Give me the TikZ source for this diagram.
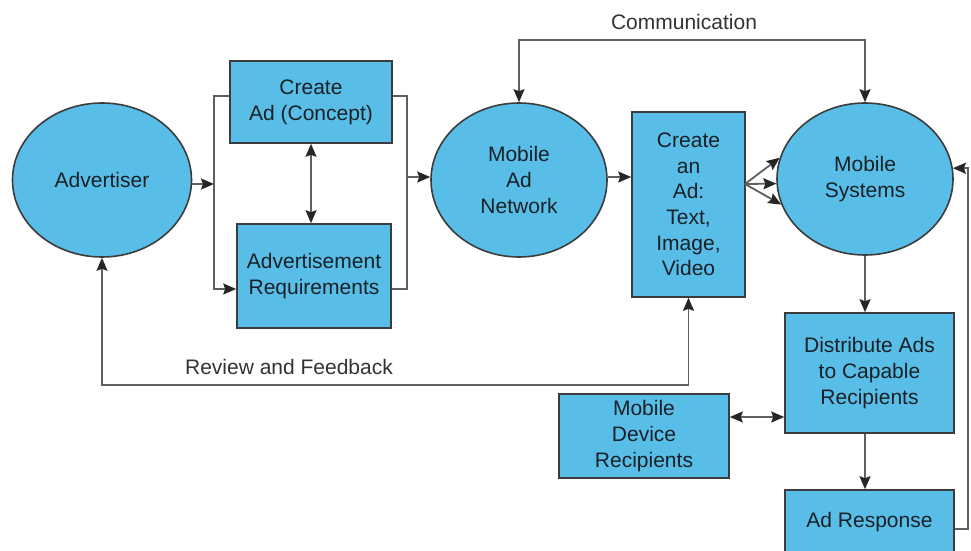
\documentclass[tikz,border=0pt]{standalone}
\usepackage{fontspec}
\setmainfont{Liberation Sans}
\usetikzlibrary{shapes.geometric,arrows.meta}
\definecolor{boxblue}{RGB}{88,190,232}
\definecolor{edgegray}{RGB}{60,60,60}
\definecolor{linegray}{RGB}{95,95,95}
\definecolor{txt}{RGB}{25,32,38}
\tikzset{
  base/.style={draw=edgegray, line width=1.6pt, fill=boxblue, text=txt, align=center, inner sep=0pt,
    font=\fontsize{21}{25.7}\selectfont},
  oval/.style={base, ellipse},
  boxnode/.style={base, rectangle},
  conn/.style={draw=linegray, line width=1.8pt},
  tip/.tip={Stealth[length=13pt,width=11pt,inset=2pt,color=black!85]},
  arr/.style={conn, -tip},
  arrtwo/.style={conn, tip-tip},
  lbl/.style={text=black!80, font=\fontsize{21}{25.7}\selectfont, inner sep=0pt}
}
\begin{document}
\begin{tikzpicture}[x=1pt,y=-1pt]
\useasboundingbox (0,0) rectangle (971,551);
\clip (0,0) rectangle (971,551);
\fill[white] (0,0) rectangle (971,551);

% nodes
\node[oval, minimum width=179pt, minimum height=154pt] (adv) at (102,180) {Advertiser};
\node[boxnode, minimum width=162pt, minimum height=82pt] (concept) at (311,102) {Create\\Ad (Concept)};
\node[boxnode, minimum width=154pt, minimum height=104pt] (req) at (314,276) {Advertisement\\Requirements};
\node[oval, minimum width=176pt, minimum height=154pt] (man) at (519,180) {Mobile\\Ad\\Network};
\node[boxnode, minimum width=113pt, minimum height=185pt] (create) at (688.5,204.5) {Create\\an\\Ad:\\Text,\\Image,\\Video};
\node[oval, minimum width=176pt, minimum height=152pt] (ms) at (865,179) {Mobile\\Systems};
\node[boxnode, minimum width=169pt, minimum height=120pt] (dist) at (869.5,373) {Distribute Ads\\to Capable\\Recipients};
\node[boxnode, minimum width=170pt, minimum height=84pt] (mdr) at (644,436) {Mobile\\Device\\Recipients};
\node[boxnode, minimum width=169pt, minimum height=64pt] (resp) at (869.5,522) {Ad Response};

% labels
\node[lbl] (commlbl) at (684,22) {Communication};
\node[lbl] (revlbl) at (289,367) {Review and Feedback};

% coordinates
\coordinate (lt) at (214,96);
\coordinate (lbot) at (214,289);
\coordinate (lmid) at (214,184);
\coordinate (rt) at (407,96);
\coordinate (rb) at (407,289);
\coordinate (rm) at (407,177);
\coordinate (fan) at (745,184);
\coordinate (dd) at (757,417);
\coordinate (rr) at (968,529);
\coordinate (rv) at (102,385);
\coordinate (ct) at (519,40);

% connectors
\draw[arr] (adv.east |- lmid) -- (lmid);
\draw[arr] (concept.west |- lt) -- (lt) -- (lbot) -- (req.west |- lbot);
\draw[conn] (concept.east |- rt) -- (rt) -- (rb) -- (req.east |- rb);
\draw[arr] (rm) -- (man.west |- rm);
\draw[arrtwo] (concept.south) -- (concept.south |- req.north);
\draw[arr] (man.east |- 0,177) -- (create.west |- 0,177);
\draw[arr] (fan) -- (ms.166);
\draw[arr] (fan) -- (ms.183);
\draw[arr] (fan) -- (ms.197);
\draw[arrtwo] (man.north) -- (ct) -| (ms.north);
\draw[arr] (ms.south) -- (ms.south |- dist.north);
\draw[arr] (ms.south |- dist.south) -- (ms.south |- resp.north);
\draw[arrtwo] (mdr.east |- dd) -- (dist.west |- dd);
\draw[arr] (resp.east |- rr) -- (rr) |- (ms.7);
\draw[arrtwo] (adv.south) -- (rv) -| (create.south);
\end{tikzpicture}
\end{document}
